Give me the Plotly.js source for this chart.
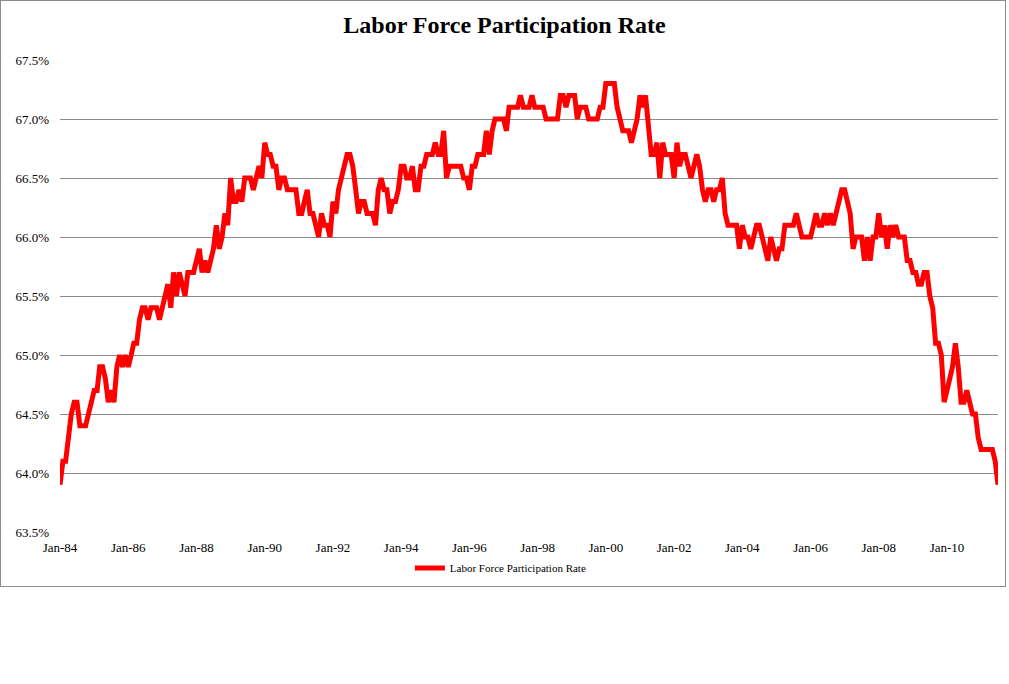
<!DOCTYPE html>
<html>
<head>
<meta charset="utf-8">
<script src="https://cdn.plot.ly/plotly-3.0.1.min.js"></script>
<style>
  html, body { margin: 0; padding: 0; background: #ffffff; }
  #wrap { position: relative; width: 1009px; height: 684px; }
  #chart { position: absolute; left: 0; top: 0; width: 1009px; height: 684px; }
  #frame { position: absolute; left: 0; top: 0; width: 1006px; height: 587px;
           box-sizing: border-box; border: 1px solid #8c8c8c; pointer-events: none; }
</style>
</head>
<body>
<div id="wrap">
  <div id="chart"></div>
  <div id="frame"></div>
</div>
<script>
// Monthly Labor Force Participation Rate (%), Jan 1984 - Jul 2011
const firstMonth = { year: 1984, month: 1 };
const rate1984to1987 = [
  63.9, 64.1, 64.1, 64.3, 64.5, 64.6, 64.6, 64.4, 64.4, 64.4, 64.5, 64.6,
  64.7, 64.7, 64.9, 64.9, 64.8, 64.6, 64.7, 64.6, 64.9, 65.0, 64.9, 65.0,
  64.9, 65.0, 65.1, 65.1, 65.3, 65.4, 65.4, 65.3, 65.4, 65.4, 65.4, 65.3,
  65.4, 65.5, 65.6, 65.4, 65.7, 65.5, 65.7, 65.6, 65.5, 65.7, 65.7, 65.7
];
const rate1988to1991 = [
  65.8, 65.9, 65.7, 65.8, 65.7, 65.8, 65.9, 66.1, 65.9, 66.0, 66.2, 66.1,
  66.5, 66.3, 66.3, 66.4, 66.3, 66.5, 66.5, 66.5, 66.4, 66.5, 66.6, 66.5,
  66.8, 66.7, 66.7, 66.6, 66.6, 66.4, 66.5, 66.5, 66.4, 66.4, 66.4, 66.4,
  66.2, 66.2, 66.3, 66.4, 66.2, 66.2, 66.1, 66.0, 66.2, 66.1, 66.1, 66.0
];
const rate1992to1995 = [
  66.3, 66.2, 66.4, 66.5, 66.6, 66.7, 66.7, 66.6, 66.4, 66.2, 66.3, 66.3,
  66.2, 66.2, 66.2, 66.1, 66.4, 66.5, 66.4, 66.4, 66.2, 66.3, 66.3, 66.4,
  66.6, 66.6, 66.5, 66.5, 66.6, 66.4, 66.4, 66.6, 66.6, 66.7, 66.7, 66.7,
  66.8, 66.7, 66.7, 66.9, 66.5, 66.6, 66.6, 66.6, 66.6, 66.6, 66.5, 66.5
];
const rate1996to1999 = [
  66.4, 66.6, 66.6, 66.7, 66.7, 66.7, 66.9, 66.7, 66.9, 67.0, 67.0, 67.0,
  67.0, 66.9, 67.1, 67.1, 67.1, 67.1, 67.2, 67.1, 67.1, 67.1, 67.2, 67.1,
  67.1, 67.1, 67.1, 67.0, 67.0, 67.0, 67.0, 67.0, 67.2, 67.2, 67.1, 67.2,
  67.2, 67.2, 67.0, 67.1, 67.1, 67.1, 67.0, 67.0, 67.0, 67.0, 67.1, 67.1
];
const rate2000to2003 = [
  67.3, 67.3, 67.3, 67.3, 67.1, 67.0, 66.9, 66.9, 66.9, 66.8, 66.9, 67.0,
  67.2, 67.1, 67.2, 66.9, 66.7, 66.7, 66.8, 66.5, 66.8, 66.7, 66.7, 66.7,
  66.5, 66.8, 66.6, 66.7, 66.7, 66.6, 66.5, 66.6, 66.7, 66.6, 66.4, 66.3,
  66.4, 66.4, 66.3, 66.4, 66.4, 66.5, 66.2, 66.1, 66.1, 66.1, 66.1, 65.9
];
const rate2004to2007 = [
  66.1, 66.0, 66.0, 65.9, 66.0, 66.1, 66.1, 66.0, 65.9, 65.8, 66.0, 65.9,
  65.8, 65.9, 65.9, 66.1, 66.1, 66.1, 66.1, 66.2, 66.1, 66.0, 66.0, 66.0,
  66.0, 66.1, 66.2, 66.1, 66.1, 66.2, 66.1, 66.2, 66.1, 66.2, 66.3, 66.4,
  66.4, 66.3, 66.2, 65.9, 66.0, 66.0, 66.0, 65.8, 66.0, 65.8, 66.0, 66.0
];
const rate2008to2011 = [
  66.2, 66.0, 66.1, 65.9, 66.1, 66.0, 66.1, 66.0, 66.0, 66.0, 65.8, 65.8,
  65.7, 65.7, 65.6, 65.6, 65.7, 65.7, 65.5, 65.4, 65.1, 65.1, 65.0, 64.6,
  64.7, 64.8, 64.9, 65.1, 64.9, 64.6, 64.6, 64.7, 64.6, 64.5, 64.5, 64.3,
  64.2, 64.2, 64.2, 64.2, 64.2, 64.1, 63.9
];
const seriesName = 'Labor Force Participation Rate';
const chartTitle = 'Labor Force Participation Rate';
const yTickValues = [63.5, 64.0, 64.5, 65.0, 65.5, 66.0, 66.5, 67.0, 67.5];
const yRange = [63.5, 67.5];

const rates = [].concat(rate1984to1987, rate1988to1991, rate1992to1995,
  rate1996to1999, rate2000to2003, rate2004to2007, rate2008to2011);

function monthDate(i) {
  const total = (firstMonth.month - 1) + i;
  const y = firstMonth.year + Math.floor(total / 12);
  const m = (total % 12) + 1;
  return y + '-' + String(m).padStart(2, '0') + '-01';
}
const dates = rates.map((_, i) => monthDate(i));

const serif = 'Liberation Serif, Times New Roman, serif';
const W = 1009, H = 684;
const margin = { l: 60, r: 11, t: 60, b: 152 };
const plotH = H - margin.t - margin.b;

const trace = {
  type: 'scatter',
  mode: 'lines',
  x: dates,
  y: rates,
  name: seriesName,
  line: { color: '#ff0000', width: 5 },
  showlegend: true
};

const layout = {
  width: W,
  height: H,
  paper_bgcolor: 'rgba(0,0,0,0)',
  plot_bgcolor: '#ffffff',
  margin: margin,
  title: {
    text: chartTitle,
    font: { family: serif, size: 24, color: '#000000', weight: 'bold' },
    x: 0.5, xanchor: 'center',
    xref: 'container',
    y: 1 - 25 / H, yanchor: 'middle', yref: 'container'
  },
  xaxis: {
    type: 'date',
    range: [dates[0], dates[dates.length - 1]],
    tick0: '1984-01-01',
    dtick: 'M24',
    tickformat: '%b-%y',
    showgrid: false,
    zeroline: false,
    showline: false,
    ticks: '',
    ticklabelstandoff: 6,
    tickfont: { family: serif, size: 13, color: '#000000' }
  },
  yaxis: {
    range: yRange,
    tickvals: yTickValues,
    ticktext: yTickValues.map(v => v.toFixed(1) + '%'),
    showgrid: true,
    gridcolor: '#8a8a8a',
    gridwidth: 1,
    zeroline: false,
    showline: false,
    ticks: '',
    ticklabelstandoff: 10,
    tickfont: { family: serif, size: 13, color: '#000000' }
  },
  showlegend: true,
  legend: {
    orientation: 'h',
    x: 0.47, xanchor: 'center',
    y: -36 / plotH, yanchor: 'middle',
    font: { family: serif, size: 11, color: '#000000' },
    bgcolor: 'rgba(0,0,0,0)'
  }
};

Plotly.newPlot('chart', [trace], layout, { staticPlot: true, displayModeBar: false });
</script>
</body>
</html>
